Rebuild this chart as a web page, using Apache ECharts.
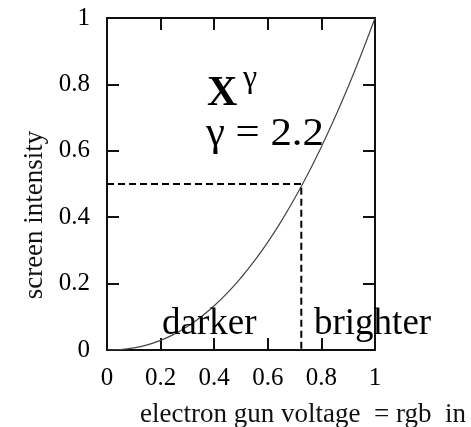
<!DOCTYPE html>
<html><head><meta charset="utf-8">
<script src="https://cdn.jsdelivr.net/npm/echarts@6/dist/echarts.min.js"></script>
<style>html,body{margin:0;padding:0;background:#fff}#c{width:471px;height:427px}</style>
</head><body><div id="c"></div>
<script>
// curve samples (screen intensity vs voltage)
var voltage = [0, 0.05, 0.1, 0.15, 0.2, 0.25, 0.3, 0.35, 0.4, 0.45, 0.5, 0.55, 0.6, 0.65, 0.7, 0.75, 0.8, 0.85, 0.9, 0.95, 1];
var intensity = [0, 0.0014, 0.0063, 0.0154, 0.029, 0.0474, 0.0707, 0.0993, 0.1332, 0.1726, 0.2176, 0.2684, 0.325, 0.3876, 0.4563, 0.531, 0.612, 0.6994, 0.7931, 0.8933, 1];
// dashed guide: half intensity
var guideX = [0, 0.725, 0.725];
var guideY = [0.5, 0.5, 0];
var xTicks = [0, 0.2, 0.4, 0.6, 0.8, 1];
var yTicks = [0, 0.2, 0.4, 0.6, 0.8, 1];

var FONT = '"Liberation Serif", "DejaVu Serif", serif';
var curve = voltage.map(function (v, i) { return [v, intensity[i]]; });
var guide = guideX.map(function (v, i) { return [v, guideY[i]]; });

function fmt(v) { return String(Math.round(v * 10) / 10); }
var axisLine = { show: true, onZero: false, lineStyle: { color: '#111', width: 2 } };
var axisTick = { show: true, inside: true, length: 12, lineStyle: { color: '#111', width: 2 } };

var chart = echarts.init(document.getElementById('c'), null, { renderer: 'canvas' });
chart.setOption({
  animation: false,
  backgroundColor: '#fff',
  grid: { left: 107, right: 96, top: 18, bottom: 77, containLabel: false },
  xAxis: [
    { type: 'value', min: xTicks[0], max: xTicks[xTicks.length - 1], interval: 0.2, position: 'bottom',
      axisLine: axisLine, axisTick: axisTick, splitLine: { show: false },
      axisLabel: { margin: 16, color: '#000', fontFamily: FONT, fontSize: 25, formatter: fmt } },
    { type: 'value', min: 0, max: 1, interval: 0.2, position: 'top',
      axisLine: axisLine, axisTick: axisTick, splitLine: { show: false }, axisLabel: { show: false } }
  ],
  yAxis: [
    { type: 'value', min: yTicks[0], max: yTicks[yTicks.length - 1], interval: 0.2, position: 'left',
      axisLine: axisLine, axisTick: axisTick, splitLine: { show: false },
      axisLabel: { margin: 17, color: '#000', fontFamily: FONT, fontSize: 25, formatter: fmt } },
    { type: 'value', min: 0, max: 1, interval: 0.2, position: 'right',
      axisLine: axisLine, axisTick: axisTick, splitLine: { show: false }, axisLabel: { show: false } }
  ],
  series: [
    { type: 'line', data: curve, smooth: true, showSymbol: false,
      lineStyle: { color: '#444', width: 1.2 }, z: 3 },
    { type: 'line', data: guide, showSymbol: false,
      lineStyle: { color: '#000', width: 2, type: [7, 4] }, z: 4 }
  ],
  graphic: [
    { type: 'text', x: 207, y: 94, z: 10, style: { text: 'X', font: 'bold 42px ' + FONT, fill: '#000', verticalAlign: 'middle', align: 'left' } },
    { type: 'text', x: 243, y: 79, z: 10, style: { text: 'γ', font: '32px ' + FONT, fill: '#000', verticalAlign: 'middle', align: 'left' } },
    { type: 'text', x: 206, y: 134, scaleX: 1.07, z: 10, style: { text: 'γ = 2.2', font: '40px ' + FONT, fill: '#000', verticalAlign: 'middle', align: 'left' } },
    { type: 'text', x: 162, y: 324, z: 10, style: { text: 'darker', font: '37px ' + FONT, fill: '#000', verticalAlign: 'middle', align: 'left' } },
    { type: 'text', x: 314, y: 324, z: 10, style: { text: 'brighter', font: '37px ' + FONT, fill: '#000', verticalAlign: 'middle', align: 'left' } },
    { type: 'text', x: 140, y: 415, z: 10, style: { text: 'electron gun voltage  = rgb  in', font: '27px ' + FONT, fill: '#111', verticalAlign: 'middle', align: 'left' } },
    { type: 'text', x: 35, y: 215, rotation: Math.PI / 2, z: 10, style: { text: 'screen intensity', font: '27px ' + FONT, fill: '#111', verticalAlign: 'middle', align: 'center' } }
  ]
});
</script></body></html>
